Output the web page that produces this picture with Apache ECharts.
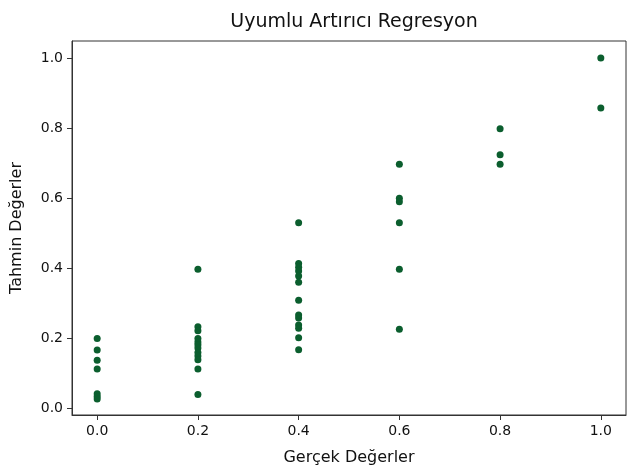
<!DOCTYPE html>
<html><head><meta charset="utf-8">
<script src="https://cdn.jsdelivr.net/npm/echarts@6/dist/echarts.min.js"></script>
<style>html,body{margin:0;padding:0;background:#fff}#c{width:630px;height:470px}</style>
</head><body><div id="c"></div>
<script>
const titleText = "Uyumlu Artırıcı Regresyon";
const xLabel = "Gerçek Değerler";
const yLabel = "Tahmin Değerler";
const tickValues = [0, 0.2, 0.4, 0.6, 0.8, 1.0];
const actual0 = [0.0, 0.0, 0.0, 0.0, 0.0, 0.0, 0.0];
const pred0 = [0.200, 0.167, 0.138, 0.113, 0.042, 0.034, 0.027];
const actual2 = [0.2, 0.2, 0.2, 0.2, 0.2, 0.2, 0.2, 0.2, 0.2, 0.2, 0.2, 0.2];
const pred2 = [0.397, 0.233, 0.222, 0.200, 0.190, 0.182, 0.173, 0.160, 0.150, 0.139, 0.113, 0.040];
const actual4 = [0.4, 0.4, 0.4, 0.4, 0.4, 0.4, 0.4, 0.4, 0.4, 0.4, 0.4, 0.4, 0.4];
const pred4 = [0.530, 0.414, 0.403, 0.392, 0.378, 0.360, 0.309, 0.267, 0.258, 0.238, 0.229, 0.202, 0.168];
const actual6 = [0.6, 0.6, 0.6, 0.6, 0.6, 0.6];
const pred6 = [0.697, 0.600, 0.590, 0.530, 0.397, 0.226];
const actual8 = [0.8, 0.8, 0.8];
const pred8 = [0.798, 0.724, 0.697];
const actual10 = [1.0, 1.0];
const pred10 = [1.000, 0.857];

const xs = [].concat(actual0, actual2, actual4, actual6, actual8, actual10);
const ys = [].concat(pred0, pred2, pred4, pred6, pred8, pred10);
const points = xs.map((x, i) => [x, ys[i]]);

const font = "DejaVu Sans";
const chart = echarts.init(document.getElementById('c'), null, {renderer: 'canvas'});
chart.setOption({
  animation: false,
  backgroundColor: '#fff',
  title: {text: titleText, left: 349, top: 8, textAlign: 'center',
    textStyle: {fontFamily: font, fontSize: 19, fontWeight: 'normal', color: '#111'}},
  grid: {left: 72, top: 41, right: 4, bottom: 55, containLabel: false, outerBoundsMode: 'none',
    show: true, borderColor: '#333', borderWidth: 1, backgroundColor: 'transparent'},
  xAxis: {type: 'value', min: -0.05, max: 1.05,
    name: xLabel, nameLocation: 'middle', nameGap: 35,
    nameTextStyle: {fontFamily: font, fontSize: 16, color: '#111'},
    splitLine: {show: false},
    axisLine: {show: true, onZero: false, lineStyle: {color: '#333'}},
    axisTick: {show: true, length: 5, customValues: tickValues, lineStyle: {color: '#333'}},
    axisLabel: {customValues: tickValues, formatter: v => v.toFixed(1), margin: 9,
      fontFamily: font, fontSize: 14, color: '#111'}},
  yAxis: {type: 'value', min: -0.0185, max: 1.0485,
    name: yLabel, nameLocation: 'middle', nameGap: 47, nameRotate: 90,
    nameTextStyle: {fontFamily: font, fontSize: 16, color: '#111'},
    splitLine: {show: false},
    axisLine: {show: true, onZero: false, lineStyle: {color: '#333'}},
    axisTick: {show: true, length: 5, customValues: tickValues, lineStyle: {color: '#333'}},
    axisLabel: {customValues: tickValues, formatter: v => v.toFixed(1), margin: 9,
      fontFamily: font, fontSize: 14, color: '#111'}},
  series: [{type: 'scatter', data: points, symbol: 'circle', symbolSize: 7,
    itemStyle: {color: '#0b5e2e', opacity: 1}}]
});
</script></body></html>
